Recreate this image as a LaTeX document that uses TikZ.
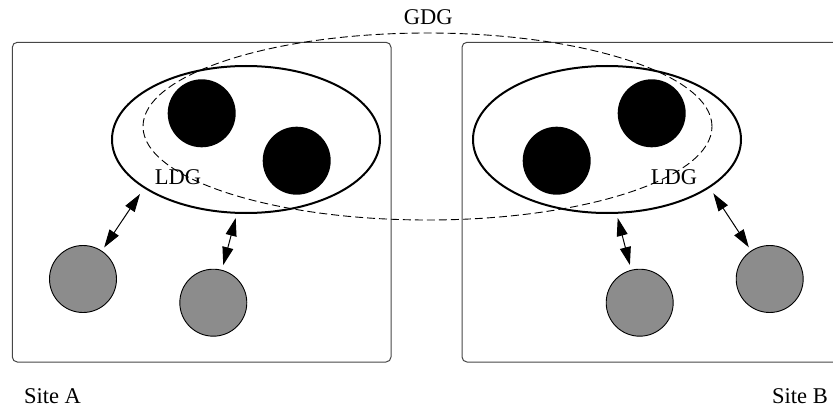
\documentclass[tikz,border=0pt]{standalone}
\usepackage{fontspec}
\setmainfont{Liberation Serif}
\usetikzlibrary{shapes.geometric,arrows.meta}
\definecolor{client}{RGB}{140,140,140}
\definecolor{boxline}{RGB}{70,70,70}
\begin{document}
\begin{tikzpicture}[x=1pt,y=-1pt,
  sitebox/.style={draw=boxline,line width=1pt,rounded corners=5pt},
  ldg/.style={draw,ellipse,line width=2pt,minimum width=268pt,minimum height=147pt,inner sep=0pt},
  server/.style={circle,fill=black,minimum size=68pt,inner sep=0pt},
  clientnode/.style={circle,draw,line width=0.9pt,fill=client,minimum size=67pt,inner sep=0pt},
  gdg/.style={draw,line width=0.9pt,dash pattern=on 8pt off 4pt},
  link/.style={line width=1pt,>={Triangle[length=18pt,width=11pt]},<->},
  lbl/.style={font=\fontsize{22.5}{26}\selectfont,inner sep=0pt,anchor=base}]
\useasboundingbox (0,0) rectangle (833,409);
\clip (0,0) rectangle (833,409);
% site boxes
\draw[sitebox] (12.3,42.3) rectangle (391,362);
\draw[sitebox] (462,42.3) rectangle (860,362);
% LDG ellipses
\node[ldg] (L1) at (246,139.5) {};
\node[ldg] (L2) at (607,139.5) {};
% servers
\node[server] (s1) at (201.7,113.3) {};
\node[server] (s2) at (296.7,160.7) {};
\node[server] (s3) at (651.7,113.3) {};
\node[server] (s4) at (556.7,160.7) {};
% GDG dashed ellipse
\node[gdg,ellipse,minimum width=569pt,minimum height=187pt,inner sep=0pt] (G) at (427.5,126.5) {};
% labels
\node[lbl] (tG) at (428.3,24.3) {GDG};
\node[lbl] (tL1) at (178,185) {LDG};
\node[lbl] (tL2) at (674,185) {LDG};
\node[lbl] (tA) at (52.5,403.3) {Site A};
\node[lbl] (tB) at (800,403.3) {Site B};
% clients
\node[clientnode] (c1) at (83,279) {};
\node[clientnode] (c2) at (213.3,302.7) {};
\node[clientnode] (c3) at (639.7,302.7) {};
\node[clientnode] (c4) at (769.7,279) {};
% connection end points on the LDG ellipses
\coordinate (a1) at (140,194);
\coordinate (a2) at (235.7,218);
\coordinate (a3) at (617.7,218);
\coordinate (a4) at (713.3,193.3);
\draw[link,shorten <=4pt] (c1) -- (a1);
\draw[link,shorten <=5pt] (c2) -- (a2);
\draw[link,shorten <=5pt] (c3) -- (a3);
\draw[link,shorten <=4pt] (c4) -- (a4);
\end{tikzpicture}
\end{document}
